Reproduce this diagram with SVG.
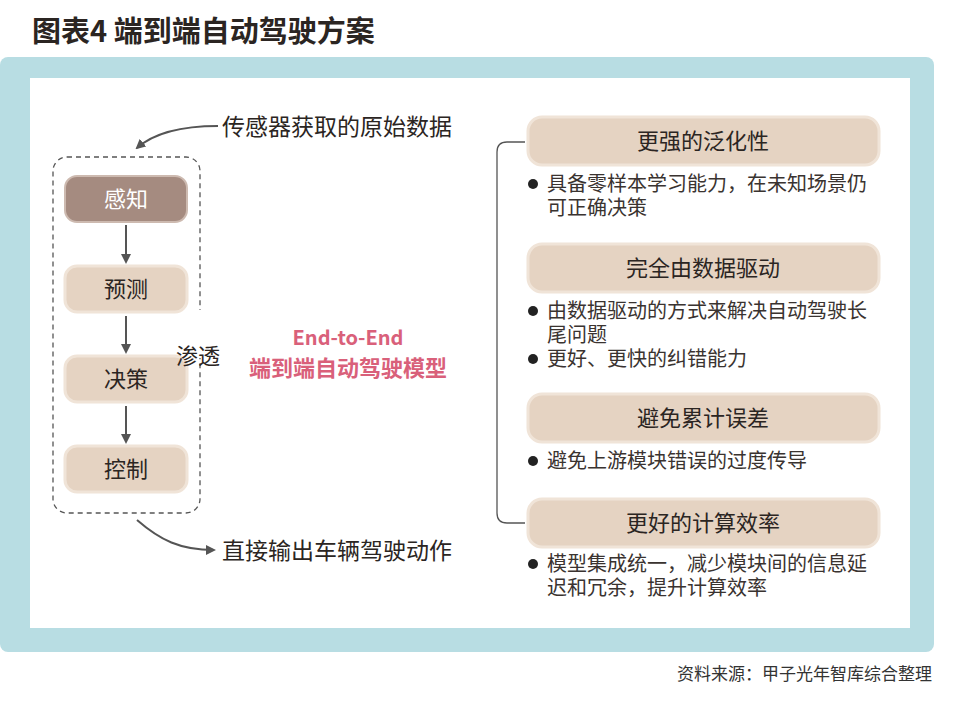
<svg xmlns="http://www.w3.org/2000/svg" width="960" height="709" viewBox="0 0 960 709">
<defs>
<style>
text{font-family:"Noto Sans CJK SC","Liberation Sans",sans-serif;fill:#2b2522}
.bx{fill:#e5d3c2;stroke:#f0e4d8;stroke-width:3}
.t{font-size:22px;text-anchor:middle}
.b{font-size:20px;fill:#3a3330}
.c{stroke:#555;stroke-width:2;fill:none}
</style>
<marker id="ah" markerWidth="10" markerHeight="10" refX="8" refY="5" orient="auto" markerUnits="userSpaceOnUse"><path d="M0,0 L10,5 L0,10 Z" fill="#555"/></marker>
</defs>
<rect width="960" height="709" fill="#fff"/>
<text x="32" y="42" style="font-size:29px;font-weight:bold">图表4  端到端自动驾驶方案</text>
<rect x="0" y="57" width="934" height="595" rx="8" fill="#b8dde3"/>
<rect x="30" y="78" width="880" height="550" fill="#fff"/>
<g id="connectors">
<rect x="53" y="157" width="147" height="356" rx="14" fill="none" stroke="#555" stroke-width="1.3" stroke-dasharray="5,4"/>
<rect x="195" y="310" width="12" height="48" fill="#fff"/>
<path class="c" d="M126,225 V262" marker-end="url(#ah)"/>
<path class="c" d="M126,316 V352" marker-end="url(#ah)"/>
<path class="c" d="M126,406 V442" marker-end="url(#ah)"/>
<path class="c" d="M218,126 C185,126 155,132 137,148" marker-end="url(#ah)"/>
<path class="c" d="M137,520 C160,540 180,550 214,550" marker-end="url(#ah)"/>
<path d="M525,142 H507 Q497,142 497,152 V513 Q497,523 507,523 H525" fill="none" stroke="#555" stroke-width="1.3"/>
</g>
<g id="n1"><rect x="65" y="176" width="122" height="46" rx="12" fill="#a58b80" stroke="#cdbab0" stroke-width="2"/><text class="t" x="126" y="207" style="fill:#fff">感知</text></g>
<g id="n2"><rect class="bx" x="65" y="266" width="122" height="46" rx="12"/><text class="t" x="126" y="297">预测</text></g>
<g id="n3"><rect class="bx" x="65" y="356" width="122" height="46" rx="12"/><text class="t" x="126" y="387">决策</text></g>
<g id="n4"><rect class="bx" x="65" y="446" width="122" height="46" rx="12"/><text class="t" x="126" y="477">控制</text></g>
<text x="176" y="364" style="font-size:22px">渗透</text>
<text x="222" y="135" style="font-size:23px">传感器获取的原始数据</text>
<text x="222" y="559" style="font-size:23px">直接输出车辆驾驶动作</text>
<g id="center"><text x="348" y="345" style="font-size:20px;font-weight:bold;fill:#d9607a;text-anchor:middle">End-to-End</text>
<text x="348" y="376" style="font-size:22px;font-weight:bold;fill:#d9607a;text-anchor:middle">端到端自动驾驶模型</text></g>
<g id="r1"><rect class="bx" x="528" y="117" width="351" height="48" rx="14"/><text class="t" x="703" y="149">更强的泛化性</text></g>
<g id="r2"><rect class="bx" x="528" y="244" width="351" height="48" rx="14"/><text class="t" x="703" y="276">完全由数据驱动</text></g>
<g id="r3"><rect class="bx" x="528" y="394" width="351" height="48" rx="14"/><text class="t" x="703" y="426">避免累计误差</text></g>
<g id="r4"><rect class="bx" x="528" y="499" width="351" height="48" rx="14"/><text class="t" x="703" y="531">更好的计算效率</text></g>
<g id="bullets">
<circle cx="533" cy="184" r="5" fill="#222"/><text class="b" x="547" y="191">具备零样本学习能力，在未知场景仍</text><text class="b" x="547" y="215">可正确决策</text>
<circle cx="533" cy="311" r="5" fill="#222"/><text class="b" x="547" y="318">由数据驱动的方式来解决自动驾驶长</text><text class="b" x="547" y="342">尾问题</text>
<circle cx="533" cy="359" r="5" fill="#222"/><text class="b" x="547" y="366">更好、更快的纠错能力</text>
<circle cx="533" cy="461" r="5" fill="#222"/><text class="b" x="547" y="468">避免上游模块错误的过度传导</text>
<circle cx="533" cy="564" r="5" fill="#222"/><text class="b" x="547" y="571">模型集成统一，减少模块间的信息延</text><text class="b" x="547" y="595">迟和冗余，提升计算效率</text>
</g>
<text x="932" y="680" style="font-size:17px;text-anchor:end;fill:#333">资料来源：甲子光年智库综合整理</text>
</svg>
